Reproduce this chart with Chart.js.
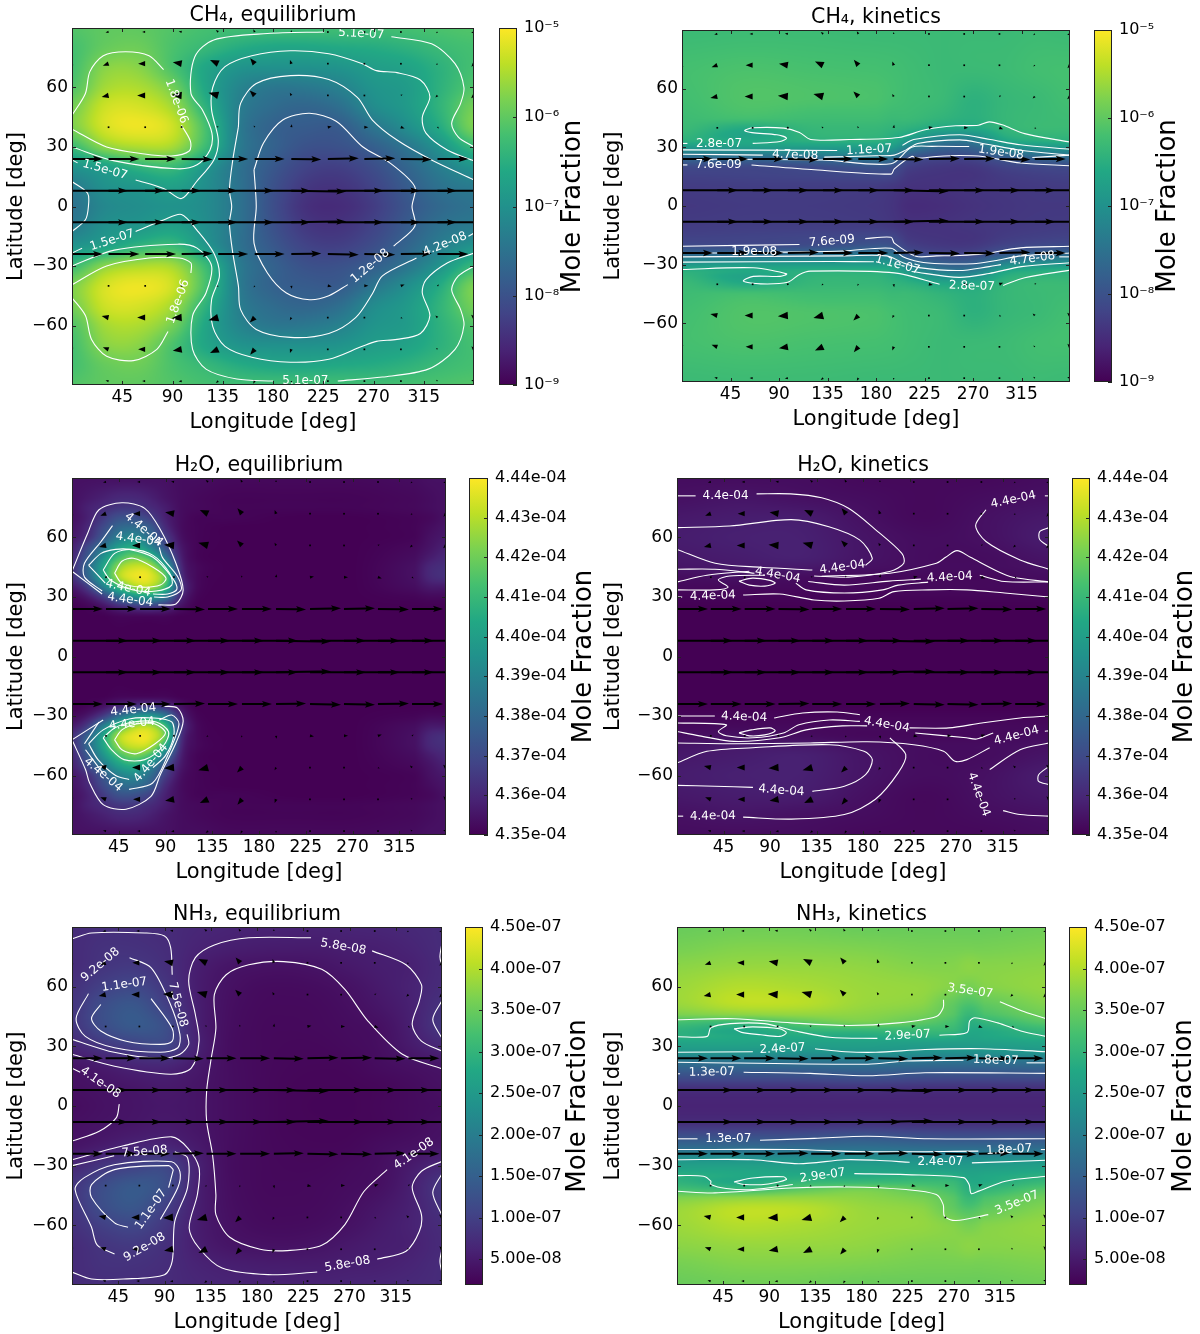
<!DOCTYPE html>
<html>
<head>
<meta charset="utf-8">
<title>Mole fraction maps</title>
<script src="https://cdn.jsdelivr.net/npm/chart.js@4"></script>
<style>
  html, body { margin: 0; padding: 0; background: #fff; }
  canvas { position: absolute; }
</style>
</head>
<body>
<script>
const FONT = '"DejaVu Sans", sans-serif';
const xTicks = [45, 90, 135, 180, 225, 270, 315];
const yTicks = [-60, -30, 0, 30, 60];
const viridis = ['#440154', '#482475', '#414487', '#355f8d', '#2a788e', '#21918c', '#22a884', '#44bf70', '#7ad151', '#bddf26', '#fde725'];

// wind field, same in every panel (north rows, south is the mirror image)
const windLons = [0, 32.7, 65.5, 98.2, 130.9, 163.6, 196.4, 229.1, 261.8, 294.5, 327.3, 360];
const windLats = [88, 72, 56, 40, 24, 8];
const windSpeed = [
  [3, 3, 3, 3, 3, 3, 2, 1, 1, 1, 2, 3],
  [5, 6, 7, 9, 9, 7, 4, 1.5, 1, 1, 2, 4],
  [4, 7, 8, 10, 10, 7, 3, 1.5, 1, 2, 3, 4],
  [1, 1, 1, 1.5, 2, 2, 3, 4, 4, 4, 2, 1],
  [31, 31, 31, 31, 30, 30, 30, 31, 31, 31, 31, 31],
  [56, 56, 56, 56, 56, 56, 55, 56, 56, 56, 56, 56]
];
const windDir = [
  [200, 190, 180, 170, 140, 120, 90, 0, 0, 0, 220, 200],
  [230, 199, 180, 170, 155, 130, 110, 90, 0, 0, 225, 230],
  [225, 192, 180, 176, 165, 135, 120, 90, 0, 30, 225, 225],
  [0, 0, 0, 170, 150, 120, 80, 10, 0, -20, -40, 0],
  [0, 0, 0, -1, 0, 0, -1, 1, 1, -1, 0, -1],
  [0, 0, 0, 0, 0, 0, -1, 0, 0, 0, 0, 0]
];

// CH4 equilibrium: log10 mole fraction
const ch4EqLons = [0, 30, 60, 90, 120, 150, 180, 210, 240, 270, 300, 330, 360];
const ch4EqLats = [0, 10, 20, 30, 40, 50, 60, 70, 80, 90];
const ch4EqField = [
  [-7.5, -7.15, -7.05, -6.98, -7.1, -7.5, -8.05, -8.45, -8.5, -8.3, -7.95, -7.65, -7.5],
  [-7.35, -7.0, -6.9, -6.75, -7.05, -7.5, -8.0, -8.35, -8.4, -8.2, -7.85, -7.5, -7.35],
  [-6.95, -6.72, -6.4, -6.3, -6.9, -7.5, -7.9, -8.2, -8.25, -8.05, -7.7, -7.3, -6.95],
  [-6.3, -5.7, -5.5, -5.55, -6.3, -7.35, -7.75, -8.0, -8.0, -7.8, -7.45, -6.95, -6.35],
  [-5.8, -5.25, -5.1, -5.3, -6.2, -7.35, -7.75, -7.85, -7.85, -7.45, -7.05, -6.55, -5.8],
  [-5.85, -5.3, -5.25, -5.55, -6.45, -7.3, -7.6, -7.7, -7.55, -7.1, -6.85, -6.4, -5.85],
  [-6.1, -5.55, -5.5, -5.85, -6.65, -7.2, -7.42, -7.4, -7.25, -6.95, -6.82, -6.45, -6.1],
  [-6.2, -5.72, -5.72, -6.15, -6.65, -6.95, -7.0, -7.0, -6.95, -6.8, -6.7, -6.45, -6.2],
  [-6.2, -5.95, -5.9, -6.15, -6.35, -6.55, -6.65, -6.65, -6.6, -6.55, -6.45, -6.3, -6.2],
  [-6.1, -6.0, -6.0, -6.1, -6.2, -6.25, -6.25, -6.25, -6.25, -6.25, -6.2, -6.15, -6.1]
];
const ch4EqContours = [
  [0,46, 12,57, 16,68, 28,76, 48,78, 69,76, 82,69],
  [98,41, 106,33, 105,28, 89,25.5, 65,26.5, 31,30, 0,39],
  [0,30, 38,23, 94,19, 112,21, 123.6,28.5, 125.3,37, 116.8,48.7, 106.5,57, 110,75.5, 127,84, 175,87.2, 226,88],
  [286,85.6, 322,82, 343,72, 351,60, 348,52, 340,42, 346,35, 360,30],
  [0,23.5, 5,22],
  [57,13.4, 82.5,9, 98,4, 111.6,12.6, 127,23.5, 131,33.5, 125,48.7, 126,60, 137,70.5, 161,76, 195.5,78.5, 230,77, 260,72, 272.6,68.5, 291,67.5, 312,63.8, 320.5,55.4, 313.7,45, 317,37, 336,28.5, 360,23],
  [0,12.6, 14,6.7, 14.7,0, 12,-6.7, 0,-12.6],
  [149,40, 151,52, 165,62, 195.5,66, 230,64, 255.5,55, 269,43.6, 291,33.5, 322,23.5, 360,13.4],
  [149,40, 144,23.5, 141,8.4, 143,0, 141,-8.4, 144,-23.5, 149,-40, 151,-52, 165,-62, 195.5,-66, 230,-64, 254,-56, 269,-44, 278,-35, 308.5,-26],
  [355,-15, 360,-13.4],
  [163,18.5, 171.5,32, 188.7,43.6, 212.7,47, 236.6,43, 260.6,30, 284.6,22, 307,10, 304.5,0, 307,-10, 288,-20],
  [247,-39.4, 230,-45, 212.7,-47, 192,-43.6, 175,-33.5, 163,-18.5, 165,0, 163,18.5],
  [0,-39.5, 31,-30, 69,-26, 96,-26, 106.5,-28.5, 106.5,-33.5],
  [86,-63, 76,-72, 55,-77.7, 31,-75.5, 17.5,-67, 12,-55, 0,-46],
  [0,-30, 38,-22, 94.5,-19, 112,-21, 125,-30, 120,-43.6, 108,-55, 108,-72, 120,-82, 147.6,-87, 180,-88],
  [238,-88, 278,-86, 319,-82, 343,-72, 351,-60, 348,-52, 340,-42, 346,-35, 360,-30],
  [0,-23.5, 9,-21],
  [57,-12.6, 82.5,-6.7, 98,-4, 112,-12, 127,-23.5, 132,-35, 125,-47, 126,-60.4, 137,-70.5, 161,-76, 195.5,-78.5, 230,-77, 260,-70.5, 272.6,-68, 291,-67, 312,-64, 320.5,-55, 313.7,-43.6, 317,-37, 336,-28.5, 360,-23.5]
];
const ch4EqLabels = [
  ['5.1e-07', 259, 87, 3], ['5.1e-07', 209, -88, 0], ['1.8e-06', 93.5, 53, 70], ['1.8e-06', 95, -48, -70],
  ['1.5e-07', 29.5, 18.5, 16], ['1.5e-07', 36, -17, -18], ['1.2e-08', 267, -30, -40], ['4.2e-08', 334, -19, -22]
];

// CH4 kinetics: log10 mole fraction
const ch4KinLons = [0, 60, 120, 180, 195, 210, 240, 270, 300, 330, 360];
const ch4KinLats = [0, 10, 16, 20, 24, 27, 30, 33, 36, 40, 45, 55, 70, 90];
const ch4KinField = [
  [-8.35, -8.32, -8.32, -8.35, -8.4, -8.5, -8.48, -8.42, -8.38, -8.35, -8.35],
  [-8.3, -8.28, -8.28, -8.3, -8.35, -8.42, -8.42, -8.38, -8.35, -8.32, -8.3],
  [-8.22, -8.2, -8.17, -8.13, -8.15, -8.35, -8.4, -8.4, -8.3, -8.25, -8.22],
  [-8.1, -8.13, -8.08, -7.95, -8.0, -8.25, -8.35, -8.35, -8.2, -8.13, -8.1],
  [-7.72, -7.72, -7.65, -7.5, -7.6, -8.05, -8.2, -8.2, -7.95, -7.8, -7.72],
  [-7.3, -7.25, -7.2, -7.1, -7.2, -7.7, -7.95, -7.95, -7.55, -7.4, -7.3],
  [-6.88, -6.8, -6.8, -6.8, -6.85, -7.3, -7.72, -7.72, -7.1, -6.95, -6.88],
  [-6.5, -6.6, -6.5, -6.5, -6.6, -6.95, -7.4, -7.38, -6.7, -6.55, -6.5],
  [-6.38, -6.7, -6.4, -6.4, -6.5, -6.65, -7.0, -7.0, -6.5, -6.4, -6.38],
  [-6.3, -6.55, -6.35, -6.35, -6.4, -6.45, -6.6, -6.6, -6.38, -6.3, -6.3],
  [-6.27, -6.2, -6.25, -6.25, -6.3, -6.3, -6.4, -6.48, -6.35, -6.3, -6.27],
  [-6.22, -6.1, -6.12, -6.15, -6.2, -6.25, -6.3, -6.45, -6.35, -6.3, -6.22],
  [-6.2, -6.15, -6.18, -6.2, -6.22, -6.25, -6.3, -6.3, -6.28, -6.22, -6.2],
  [-6.3, -6.28, -6.28, -6.3, -6.3, -6.3, -6.3, -6.3, -6.3, -6.28, -6.3]
];
const ch4KinContours = [
  [0,32, 5,32],
  [65.6,32, 91,33, 97,34.7, 88,36.4, 65,37.5, 58,38.6, 66,40, 94.6,39.8, 109,37.6, 119.4,34, 155,34, 201,35, 225.6,39, 254,41, 275,41.3, 285,43, 297,41.5, 318,37, 360,32.7],
  [0,28.7, 144,28.4],
  [204.5,31, 215,34, 257.6,36.4, 286,34, 314,31.3, 360,29],
  [0,26.5, 75,26],
  [132,25, 180,25.7, 197,26, 208,28.7, 218.6,32, 257.6,33.8, 279,32, 314,28.5, 360,26],
  [0,24, 130,23.5, 194,21.6, 213,30, 232,30.5, 266.5,30.4],
  [325,24.8, 360,26],
  [0,21, 5,21],
  [64.5,21, 123,18.5, 194,16.3, 197,19, 213,25.3, 218.6,24.5, 236,25.3, 257.6,25.8, 279,25.3, 314,22, 360,20.6],
  [0,-20.6, 109,-19.7],
  [170,-16.7, 194,-16, 197,-19, 217,-25.7, 236,-25.5, 257.6,-25.3, 279,-24.5, 314,-21.4, 360,-20.6],
  [0,-24, 33,-24],
  [91,-23.6, 150,-23, 194,-21.6, 205,-26, 220,-28.5, 240,-29.5, 270,-29.5, 290,-28, 315,-25.5, 360,-24],
  [0,-26, 150,-25.5, 190,-25.5, 205,-29, 220,-31.5, 257,-33, 285,-31, 296,-30],
  [350,-26, 360,-26],
  [0,-28.7, 140,-28.4, 178,-28.5],
  [213,-33.5, 257,-36.5, 285,-34.5, 315,-31, 360,-29],
  [0,-32.5, 66,-31.6, 97,-34.7, 91,-36, 66,-36, 57,-38.4, 73,-39.8, 98,-39, 109,-35, 119,-33.3, 197,-34.2, 239,-40],
  [298,-40.6, 318,-36.7, 360,-32.8]
];
const ch4KinLabels = [
  ['2.8e-07', 34.4, 32, 0], ['1.1e-07', 173.6, 28.7, -3], ['4.7e-08', 105, 26, 2], ['7.6e-09', 34, 21, 0], ['1.9e-08', 296, 27.4, 8],
  ['7.6e-09', 139, -18, -5], ['1.9e-08', 67, -23.6, 0], ['1.1e-07', 200, -30, 15], ['4.7e-08', 325, -27, -8], ['2.8e-07', 269, -41, 2]
];

// H2O equilibrium: units of 1e-4
const h2oEqLons = [0, 15, 30, 45, 60, 75, 90, 105, 120, 150, 210, 270, 330, 345, 360];
const h2oEqLats = [0, 20, 25, 30, 35, 40, 45, 50, 55, 60, 65, 70, 75, 80, 90];
const h2oEqField = [
  [4.35, 4.35, 4.35, 4.35, 4.35, 4.35, 4.35, 4.35, 4.35, 4.35, 4.35, 4.35, 4.35, 4.35, 4.35],
  [4.35, 4.35, 4.35, 4.351, 4.351, 4.351, 4.351, 4.35, 4.35, 4.35, 4.35, 4.35, 4.35, 4.35, 4.35],
  [4.35, 4.351, 4.354, 4.36, 4.364, 4.366, 4.362, 4.354, 4.35, 4.35, 4.35, 4.35, 4.35, 4.35, 4.35],
  [4.352, 4.356, 4.366, 4.382, 4.394, 4.398, 4.386, 4.36, 4.351, 4.35, 4.35, 4.35, 4.351, 4.352, 4.352],
  [4.356, 4.366, 4.388, 4.41, 4.426, 4.428, 4.41, 4.366, 4.352, 4.35, 4.35, 4.35, 4.353, 4.356, 4.356],
  [4.362, 4.378, 4.402, 4.428, 4.437, 4.436, 4.418, 4.364, 4.352, 4.35, 4.35, 4.35, 4.354, 4.36, 4.362],
  [4.362, 4.38, 4.402, 4.425, 4.433, 4.43, 4.405, 4.361, 4.352, 4.35, 4.35, 4.35, 4.354, 4.36, 4.362],
  [4.36, 4.375, 4.395, 4.412, 4.42, 4.412, 4.385, 4.358, 4.351, 4.35, 4.35, 4.35, 4.353, 4.357, 4.36],
  [4.358, 4.37, 4.385, 4.4, 4.405, 4.392, 4.372, 4.356, 4.351, 4.35, 4.35, 4.35, 4.352, 4.355, 4.358],
  [4.356, 4.362, 4.375, 4.388, 4.392, 4.382, 4.366, 4.354, 4.351, 4.35, 4.35, 4.35, 4.351, 4.354, 4.356],
  [4.355, 4.36, 4.37, 4.38, 4.382, 4.376, 4.361, 4.353, 4.351, 4.35, 4.35, 4.35, 4.351, 4.353, 4.355],
  [4.354, 4.358, 4.365, 4.372, 4.372, 4.367, 4.358, 4.353, 4.351, 4.351, 4.35, 4.35, 4.351, 4.352, 4.354],
  [4.354, 4.358, 4.361, 4.364, 4.364, 4.361, 4.357, 4.353, 4.352, 4.351, 4.351, 4.351, 4.352, 4.353, 4.354],
  [4.354, 4.356, 4.358, 4.36, 4.36, 4.358, 4.355, 4.353, 4.352, 4.351, 4.351, 4.351, 4.352, 4.353, 4.354],
  [4.354, 4.354, 4.354, 4.354, 4.354, 4.354, 4.354, 4.353, 4.353, 4.352, 4.352, 4.352, 4.353, 4.354, 4.354]
];
const h2oEqContours = [
  [0,43, 15,62, 26,74, 48,77.5, 70,74.7, 85,64, 100,47, 107,33.5, 100,26.5, 83,26],
  [29,31.5, 0,43],
  [39,66, 28,58, 12,47, 12,40, 29,33],
  [79,30, 92,30, 105,33.5, 102,40, 87,50, 84,55],
  [16,46, 28,52, 42,54, 55,54, 78,50, 96,40, 101,34, 92,31.5, 78,31.5],
  [32,37, 16,46],
  [30,43.6, 41,52, 57,54, 78,51, 94,42, 96,36, 81,33, 59,33.5, 37,38.6, 30,43.6],
  [41,42, 48,48, 59,49.5, 78,45, 90.5,39.5, 85,36, 67,35, 48,37, 41,42],
  [0,-42, 30,-32],
  [89,-25, 101.6,-26, 107,-32.7, 100,-43.6, 85,-59.6, 76,-70.5, 52,-77, 30,-74.7, 17,-63.8, 13,-57, 0,-42],
  [12,-44, 26,-33],
  [84,-32, 96,-29.5, 103,-34, 92,-50, 77.6,-63.8, 55,-67],
  [13,-47, 30,-59],
  [16,-44, 30,-37, 55,-31.5, 78,-31, 96,-33, 98,-40, 90,-50, 78,-56],
  [16,-44, 25,-52, 42,-60, 55,-62],
  [30,-41, 41,-36, 59,-33, 81,-33, 93,-38, 88,-45, 70,-52, 50,-52, 38,-47, 30,-41],
  [41,-42, 48,-37, 62,-34, 80,-34, 90,-38.5, 80,-44, 62,-49, 48,-47, 41,-42]
];
const h2oEqLabels = [
  ['4.4e-04', 69, 64, 40], ['4.4e-04', 64, 59, 8], ['4.4e-04', 54, 34.4, 12], ['4.4e-04', 56, 28.5, 8],
  ['4.4e-04', 59, -27, -6], ['4.4e-04', 57.6, -34, -6], ['4.4e-04', 30, -59.6, 40], ['4.4e-04', 76, -53.7, -50]
];

// H2O kinetics: units of 1e-4
const h2oKinLons = [0, 60, 120, 180, 240, 300, 360];
const h2oKinLats = [0, 25, 30, 35, 40, 45, 50, 60, 70, 80, 90];
const h2oKinField = [
  [4.35, 4.35, 4.35, 4.35, 4.35, 4.35, 4.35],
  [4.35, 4.35, 4.35, 4.35, 4.35, 4.35, 4.35],
  [4.351, 4.351, 4.351, 4.351, 4.351, 4.351, 4.351],
  [4.352, 4.352, 4.352, 4.352, 4.352, 4.352, 4.352],
  [4.353, 4.354, 4.353, 4.352, 4.352, 4.352, 4.353],
  [4.355, 4.356, 4.356, 4.354, 4.353, 4.353, 4.354],
  [4.356, 4.357, 4.358, 4.355, 4.353, 4.353, 4.355],
  [4.357, 4.358, 4.358, 4.355, 4.353, 4.354, 4.357],
  [4.356, 4.357, 4.357, 4.354, 4.352, 4.354, 4.356],
  [4.354, 4.355, 4.354, 4.353, 4.352, 4.353, 4.354],
  [4.353, 4.353, 4.353, 4.352, 4.352, 4.352, 4.353]
];
const h2oKinContours = [
  [0,81, 18,81],
  [77,82, 110,82, 140,80, 166,74.7, 192,64, 217.6,52, 219.5,47, 206.6,43, 166,40, 132.7,40.6],
  [75,42, 36.6,44, 0,44],
  [0,65, 51,65.8, 110.5,69, 147,65.4, 177,58.7, 189,49.5, 182.5,46],
  [0,54, 37,47, 81,45, 131,43.6],
  [0,37.6, 29,41, 70,43],
  [127,37.8, 162,36, 205,38, 236,39],
  [293,41, 317,37.8, 360,37.6],
  [0,33.6, 36.6,33.6, 49.5,35, 40,38.6, 51,40.6, 85,41],
  [115,37, 125,33.6, 162,32, 199,33.6, 214,36, 243,37.5],
  [60,38, 73,39.5, 90,38.4, 95,37, 85,35.5, 70,36, 60,38],
  [64,31, 99.4,31.5, 132.7,28.5, 162,28, 195.5,29.4, 210,32.7, 243.5,33.6, 280.5,33.6, 317,32, 360,30],
  [0,30, 5,30],
  [140,40.5, 206,42, 251,47, 260,50, 271,53.4, 284,50, 310,43, 325,40, 360,37.6],
  [299,74, 289,66, 299,58, 332,48.7, 360,44],
  [356,81, 360,81],
  [360,65, 351,63, 351,59, 360,55.4],
  [0,-30, 36.6,-30],
  [94,-31, 121.6,-28.5, 155,-28, 177,-29.4],
  [225,-36, 263,-36, 295,-33.5, 332,-31, 360,-30],
  [0,-33.5, 47.7,-34.4, 40,-37.8, 47.7,-40, 73.5,-41, 103,-38.6, 118,-34.4, 147.5,-32, 177,-32.7],
  [60,-38.5, 72,-37, 90,-36, 95,-37.5, 85,-39.5, 70,-40, 60,-38.5],
  [0,-37.8, 21.8,-40, 55,-42.8, 99.4,-41, 125,-37, 160,-35, 184,-35],
  [230.6,-38.6, 280,-41, 290,-41.6, 306,-38.6],
  [356,-37.7, 360,-37.5],
  [0,-43.6, 55,-44, 129,-43.6, 184,-43, 229,-44.5, 258,-47.8, 269,-52.8, 280.5,-52, 302.6,-46],
  [0,-53.7, 29,-47.8, 73.5,-46, 147.5,-44.5, 181,-47.8, 189,-52, 182.5,-59.6, 162,-65.4, 131,-68],
  [73.5,-66, 36.6,-65.4, 0,-65],
  [206,-41, 221.4,-49.5, 214,-58.7, 192,-72, 162,-79.7, 110.5,-82, 64,-81],
  [6,-80.5, 0,-80.5],
  [302.6,-57, 332,-47, 360,-43.6],
  [315.6,-77.7, 332,-79.7, 360,-80.5],
  [360,-55.4, 350,-59.6, 350,-63, 360,-64.6]
];
const h2oKinLabels = [
  ['4.4e-04', 47, 81, 0], ['4.4e-04', 325.5, 79, -12], ['4.4e-04', 160, 45, -8], ['4.4e-04', 97.5, 41, 10], ['4.4e-04', 264, 40, -3], ['4.4e-04', 34.7, 30.5, -2],
  ['4.4e-04', 65, -30.5, 2], ['4.4e-04', 203, -34.4, 10], ['4.4e-04', 328.5, -40, -15], ['4.4e-04', 292, -69.6, 70], ['4.4e-04', 101, -67.6, 4], ['4.4e-04', 34.7, -80.5, -1]
];

// NH3 equilibrium: units of 1e-7
const nh3EqLons = [0, 30, 60, 90, 120, 150, 180, 210, 240, 270, 300, 330, 360];
const nh3EqLats = [0, 10, 20, 30, 40, 50, 60, 70, 80, 90];
const nh3EqField = [
  [0.34, 0.39, 0.43, 0.46, 0.43, 0.36, 0.3, 0.26, 0.24, 0.24, 0.27, 0.31, 0.34],
  [0.38, 0.42, 0.46, 0.5, 0.44, 0.36, 0.3, 0.26, 0.25, 0.25, 0.27, 0.32, 0.38],
  [0.43, 0.52, 0.62, 0.64, 0.5, 0.36, 0.3, 0.27, 0.26, 0.27, 0.33, 0.38, 0.43],
  [0.66, 0.85, 1.0, 1.08, 0.62, 0.36, 0.3, 0.28, 0.28, 0.31, 0.36, 0.5, 0.65],
  [0.85, 1.18, 1.38, 1.22, 0.6, 0.37, 0.3, 0.29, 0.3, 0.33, 0.38, 0.56, 0.85],
  [0.85, 1.2, 1.35, 1.02, 0.58, 0.38, 0.31, 0.3, 0.31, 0.36, 0.45, 0.58, 0.8],
  [0.8, 1.0, 1.1, 0.88, 0.55, 0.4, 0.33, 0.32, 0.34, 0.4, 0.5, 0.6, 0.72],
  [0.72, 0.85, 0.9, 0.78, 0.56, 0.44, 0.4, 0.39, 0.42, 0.48, 0.54, 0.58, 0.7],
  [0.72, 0.8, 0.8, 0.74, 0.62, 0.56, 0.53, 0.52, 0.52, 0.55, 0.57, 0.63, 0.72],
  [0.72, 0.76, 0.76, 0.72, 0.66, 0.62, 0.6, 0.6, 0.6, 0.62, 0.64, 0.68, 0.72]
];
const nh3EqContours = [
  [0,84, 19,87, 71,87, 90,85.5, 96,79.6, 97.5,66],
  [112,36, 113.5,31, 105,26, 85,24, 41,27, 0,33.5],
  [16,56.5, 4,44, 13,35, 41.4,29.3, 86,27, 103,29.3, 105,36, 95,52, 77,69.5, 56,74.6],
  [28,51, 19,44, 28,37.7, 52.7,32.6, 86,31, 97.5,32.6, 97.5,39, 77,54],
  [232.6,84.6, 172,84.6, 138.5,81, 120,74.6, 113.5,63, 120,46, 123.6,32.6, 116,19, 95.6,16, 41.4,20, 0,26],
  [292,78, 325,71, 340,61, 338,53, 331,41, 340,32.6, 360,27.6],
  [360,18.7, 321.5,26, 288,42.7, 265.5,58.6, 243,68.7, 206,72.6, 172,71, 150,66, 138.5,56, 140,39, 135,22.5, 131,7.5, 131,-7.6, 136.7,-24.4, 140,-44.5, 140,-54.6, 153.5,-66, 183,-72, 209.5,-72.7, 243,-70, 265.5,-59.6, 284,-43, 306.6,-32],
  [0,19, 8,17],
  [46,1, 43,-6, 26.5,-12.7, 0,-17.7],
  [360,82, 358,75, 360,70],
  [360,53, 351,43.5, 360,34],
  [360,-27.8, 340,-32.8, 331,-41, 340,-54.6, 338,-63, 325,-73, 297,-77],
  [238.6,-83.5, 191,-84.8, 146,-81.5, 123.6,-71.4, 114,-61.3, 122,-44.5, 123.6,-31, 112.4,-21, 97,-15.5, 50,-20, 0,-27],
  [41,-25, 0,-30],
  [100,-23, 112.4,-26, 112.4,-41, 100,-58, 97.5,-78, 90,-84.8, 50,-87, 19,-87, 0,-83.5],
  [86,-57, 103,-41, 105,-33, 97,-28, 41,-29.5, 12,-36, 3,-42, 19,-61, 24.6,-70, 41.4,-74.4],
  [98.6,-32, 94,-30, 41.4,-32, 19,-39.5, 19,-46, 41.4,-58.8, 54.5,-61],
  [94,-41, 98.6,-32],
  [360,-34, 351,-43.5, 360,-55],
  [360,-72, 358,-78, 360,-84]
];
const nh3EqLabels = [
  ['5.8e-08', 264, 80, 10], ['9.2e-08', 27.6, 71, -40], ['1.1e-07', 51, 61, -8], ['7.5e-08', 103, 51, 75], ['4.1e-08', 27.6, 11.7, 35],
  ['7.5e-08', 70.6, -23, -4], ['4.1e-08', 332.7, -24, -35], ['1.1e-07', 77, -52, -55], ['9.2e-08', 70.6, -71, -30], ['5.8e-08', 268, -79.5, -10]
];

// NH3 kinetics: units of 1e-7
const nh3KinLons = [0, 60, 120, 180, 240, 270, 285, 300, 360];
const nh3KinLats = [0, 8, 16, 22, 27, 32, 35, 38, 42, 46, 52, 60, 70, 80, 90];
const nh3KinField = [
  [0.62, 0.62, 0.62, 0.62, 0.62, 0.62, 0.62, 0.62, 0.62],
  [0.75, 0.75, 0.75, 0.78, 0.75, 0.75, 0.75, 0.75, 0.75],
  [1.3, 1.3, 1.3, 1.38, 1.3, 1.28, 1.28, 1.28, 1.3],
  [1.8, 1.8, 1.8, 1.85, 1.8, 1.78, 1.78, 1.78, 1.8],
  [2.4, 2.4, 2.38, 2.4, 2.35, 2.33, 2.33, 2.35, 2.4],
  [2.7, 2.7, 2.65, 2.65, 2.62, 2.6, 2.6, 2.62, 2.7],
  [2.9, 2.78, 2.8, 2.8, 2.9, 2.85, 2.7, 2.75, 2.9],
  [2.95, 2.75, 3.0, 3.05, 3.1, 3.05, 2.8, 2.8, 3.05],
  [3.2, 3.1, 3.4, 3.6, 3.4, 3.2, 2.9, 3.0, 3.35],
  [3.65, 3.75, 3.8, 3.75, 3.6, 3.35, 3.05, 3.25, 3.55],
  [3.85, 4.08, 4.05, 3.85, 3.75, 3.45, 3.3, 3.45, 3.7],
  [3.85, 4.0, 3.95, 3.85, 3.8, 3.7, 3.6, 3.7, 3.8],
  [3.75, 3.82, 3.82, 3.78, 3.7, 3.7, 3.75, 3.72, 3.75],
  [3.6, 3.68, 3.68, 3.65, 3.6, 3.6, 3.6, 3.6, 3.65],
  [3.5, 3.55, 3.55, 3.5, 3.5, 3.5, 3.5, 3.5, 3.55]
];
const nh3KinContours = [
  [0,43.4, 55.6,43.9, 111.6,41.8, 167.5,40.5, 216,41.8, 253,45, 259.7,49.4, 260,53.4],
  [315,52.4, 339,47.4, 360,43.9],
  [0,34.8, 29.5,35, 33,39.3, 51.9,41.4, 85.4,41.4, 115.3,37.7, 149,34.6, 195.5,34],
  [256,35.6, 283,37, 285.5,42.7, 290.7,44.4, 313,41.8, 335.5,37.7, 360,35],
  [55.6,38.8, 74,39.8, 100,38.8, 106.7,36.8, 100.4,35, 81.7,35.8, 63,37, 55.6,38.8],
  [0,27, 74,27.3],
  [134.7,28.8, 164,27.3, 193.7,27, 242,28.4, 298,28.8, 360,27.3],
  [0,22, 186,21, 223.5,22.6, 279.5,23],
  [341,21.7, 360,21.7],
  [0,16.2, 3,16.2],
  [65,17, 130,16.4, 186,15.2, 242,16.7, 360,16.4],
  [0,-16.5, 20,-16.5],
  [81,-17.2, 134,-16.3, 186,-15.2, 246,-16.5, 360,-16.5],
  [0,-21.9, 111.6,-21.9, 186,-23, 294,-22.7],
  [355,-21.9, 360,-21.9],
  [0,-27, 74,-27, 119,-29, 164,-27, 193.7,-27.3, 227,-28.3],
  [287.7,-28.6, 360,-27.3],
  [0,-35, 25.7,-35.3, 33,-37.8, 33,-39.5, 48,-41.5, 74,-42, 113,-39.5],
  [173,-34, 223.5,-34.5, 279.5,-36, 285,-39.5, 287,-44, 294.4,-42.8, 320.5,-37.8, 360,-35.3],
  [55.6,-38.2, 74,-36.2, 104,-35.6, 106.7,-37, 89,-39.2, 66.8,-39.5, 55.6,-38.2],
  [0,-42.9, 37,-43.7, 111.6,-41.2, 167.5,-40.7, 223.5,-42, 253,-44.5, 259.7,-49.6, 261,-55.5, 272,-57.6, 303.7,-54.6]
];
const nh3KinLabels = [
  ['2.9e-07', 225, 35.5, -3], ['2.4e-07', 103, 28.8, -3], ['1.8e-07', 311, 22.9, 2], ['1.3e-07', 34, 17, -1], ['3.5e-07', 286, 57.8, 8],
  ['1.3e-07', 50, -16.5, 0], ['1.8e-07', 324, -22, -3], ['2.4e-07', 257, -28.3, 0], ['2.9e-07', 142, -35, -8], ['3.5e-07', 331.7, -48.7, -22]
];

// colour bar ticks
const logBarTicks = [1e-9, 1e-8, 1e-7, 1e-6, 1e-5];
const logBarLabels = ['10⁻⁹', '10⁻⁸', '10⁻⁷', '10⁻⁶', '10⁻⁵'];
const h2oBarTicks = [4.35e-4, 4.36e-4, 4.37e-4, 4.38e-4, 4.39e-4, 4.40e-4, 4.41e-4, 4.42e-4, 4.43e-4, 4.44e-4];
const h2oBarLabels = ['4.35e-04', '4.36e-04', '4.37e-04', '4.38e-04', '4.39e-04', '4.40e-04', '4.41e-04', '4.42e-04', '4.43e-04', '4.44e-04'];
const nh3BarTicks = [5e-8, 1e-7, 1.5e-7, 2e-7, 2.5e-7, 3e-7, 3.5e-7, 4e-7, 4.5e-7];
const nh3BarLabels = ['5.00e-08', '1.00e-07', '1.50e-07', '2.00e-07', '2.50e-07', '3.00e-07', '3.50e-07', '4.00e-07', '4.50e-07'];

const panels = [
  { title: 'CH₄, equilibrium', lons: ch4EqLons, lats: ch4EqLats, field: ch4EqField, contours: ch4EqContours, labels: ch4EqLabels, lo: -9, hi: -5, box: [72, 474, 28, 385], axisW: 68, bar: [499, 517], moleX: 573, barType: 'logarithmic', barMin: 1e-9, barMax: 1e-5, barTicks: logBarTicks, barLabels: logBarLabels },
  { title: 'CH₄, kinetics', lons: ch4KinLons, lats: ch4KinLats, field: ch4KinField, contours: ch4KinContours, labels: ch4KinLabels, lo: -9, hi: -5, box: [682, 1070, 30, 382], axisW: 81, bar: [1094, 1112], moleX: 1168, barType: 'logarithmic', barMin: 1e-9, barMax: 1e-5, barTicks: logBarTicks, barLabels: logBarLabels },
  { title: 'H₂O, equilibrium', lons: h2oEqLons, lats: h2oEqLats, field: h2oEqField, contours: h2oEqContours, labels: h2oEqLabels, lo: 4.35, hi: 4.44, box: [72, 446, 478, 835], axisW: 68, bar: [469, 488], moleX: 584, barType: 'linear', barMin: 4.35e-4, barMax: 4.44e-4, barTicks: h2oBarTicks, barLabels: h2oBarLabels },
  { title: 'H₂O, kinetics', lons: h2oKinLons, lats: h2oKinLats, field: h2oKinField, contours: h2oKinContours, labels: h2oKinLabels, lo: 4.35, hi: 4.44, box: [677, 1049, 478, 835], axisW: 76, bar: [1072, 1090], moleX: 1185, barType: 'linear', barMin: 4.35e-4, barMax: 4.44e-4, barTicks: h2oBarTicks, barLabels: h2oBarLabels },
  { title: 'NH₃, equilibrium', lons: nh3EqLons, lats: nh3EqLats, field: nh3EqField, contours: nh3EqContours, labels: nh3EqLabels, lo: 0.19, hi: 4.5, box: [72, 442, 927, 1285], axisW: 68, bar: [465, 483], moleX: 578, barType: 'linear', barMin: 1.9e-8, barMax: 4.5e-7, barTicks: nh3BarTicks, barLabels: nh3BarLabels },
  { title: 'NH₃, kinetics', lons: nh3KinLons, lats: nh3KinLats, field: nh3KinField, contours: nh3KinContours, labels: nh3KinLabels, lo: 0.19, hi: 4.5, box: [677, 1046, 927, 1285], axisW: 76, bar: [1069, 1087], moleX: 1184, barType: 'linear', barMin: 1.9e-8, barMax: 4.5e-7, barTicks: nh3BarTicks, barLabels: nh3BarLabels }
];

function hexToRgb(h) { return [1, 3, 5].map(i => parseInt(h.substr(i, 2), 16)); }
const viridisRgb = viridis.map(hexToRgb);
function colormap(t) {
  t = Math.max(0, Math.min(1, t));
  const f = t * (viridisRgb.length - 1), i = Math.min(Math.floor(f), viridisRgb.length - 2), w = f - i;
  return viridisRgb[i].map((c, k) => c + (viridisRgb[i + 1][k] - c) * w);
}

// fractional position of v in a sorted axis
function axisPos(axis, v) {
  let i = 0;
  while (i < axis.length - 2 && axis[i + 1] < v) i++;
  return i + (v - axis[i]) / (axis[i + 1] - axis[i]);
}
function catmull(a, b, c, d, t) {
  return b + 0.5 * t * (c - a + t * (2 * a - 5 * b + 4 * c - d + t * (3 * (b - c) + d - a)));
}
function sampleRow(row, x) {
  const i = Math.min(Math.floor(x), row.length - 2), t = x - i;
  return catmull(row[Math.max(i - 1, 0)], row[i], row[i + 1], row[Math.min(i + 2, row.length - 1)], t);
}
function sampleField(p, lon, lat) {
  const x = axisPos(p.lons, lon), y = axisPos(p.lats, Math.abs(lat));
  const n = p.field.length, i = Math.min(Math.floor(y), n - 2), t = y - i;
  return catmull(sampleRow(p.field[Math.max(i - 1, 0)], x), sampleRow(p.field[i], x), sampleRow(p.field[i + 1], x), sampleRow(p.field[Math.min(i + 2, n - 1)], x), t);
}

const heatmapPlugin = {
  id: 'heatmap',
  beforeDatasetsDraw(chart) {
    const p = chart.options.plugins.heatmap.panel, a = chart.chartArea;
    const w = Math.round(a.right - a.left), h = Math.round(a.bottom - a.top);
    const off = document.createElement('canvas');
    off.width = w; off.height = h;
    const octx = off.getContext('2d'), img = octx.createImageData(w, h);
    for (let j = 0; j < h; j++) {
      const lat = chart.scales.y.getValueForPixel(a.top + j + 0.5);
      for (let i = 0; i < w; i++) {
        const lon = chart.scales.x.getValueForPixel(a.left + i + 0.5);
        const rgb = colormap((sampleField(p, lon, lat) - p.lo) / (p.hi - p.lo));
        const o = (j * w + i) * 4;
        img.data[o] = rgb[0]; img.data[o + 1] = rgb[1]; img.data[o + 2] = rgb[2]; img.data[o + 3] = 255;
      }
    }
    octx.putImageData(img, 0, 0);
    chart.ctx.drawImage(off, a.left, a.top);
  }
};

function drawArrow(ctx, x, y, len, dir) {
  ctx.save();
  ctx.translate(x, y);
  ctx.rotate(-dir * Math.PI / 180);
  ctx.fillStyle = '#000';
  if (len < 1.6) {
    ctx.fillRect(-0.8, -0.8, 1.7, 1.7);
  } else if (len <= 10) {
    ctx.beginPath();
    ctx.moveTo(len, 0);
    ctx.lineTo(0, -len * 0.38);
    ctx.lineTo(0, len * 0.38);
    ctx.closePath();
    ctx.fill();
  } else {
    ctx.beginPath();
    ctx.moveTo(len, 0);
    ctx.lineTo(len - 10, -3.2);
    ctx.lineTo(len - 8.5, -1);
    ctx.lineTo(0, -1);
    ctx.lineTo(0, 1);
    ctx.lineTo(len - 8.5, 1);
    ctx.lineTo(len - 10, 3.2);
    ctx.closePath();
    ctx.fill();
  }
  ctx.restore();
}

const overlayPlugin = {
  id: 'overlay',
  afterDatasetsDraw(chart) {
    const p = chart.options.plugins.overlay.panel, a = chart.chartArea, ctx = chart.ctx;
    const xs = chart.scales.x, ys = chart.scales.y;
    ctx.save();
    ctx.beginPath();
    ctx.rect(a.left, a.top, a.right - a.left, a.bottom - a.top);
    ctx.clip();
    windLats.forEach((lat, r) => {
      windLons.forEach((lon, c) => {
        drawArrow(ctx, xs.getPixelForValue(lon), ys.getPixelForValue(lat), windSpeed[r][c], windDir[r][c]);
        drawArrow(ctx, xs.getPixelForValue(lon), ys.getPixelForValue(-lat), windSpeed[r][c], -windDir[r][c]);
      });
    });
    ctx.restore();
    ctx.save();
    ctx.fillStyle = '#fff';
    ctx.font = '12px ' + FONT;
    ctx.textAlign = 'center';
    ctx.textBaseline = 'middle';
    p.labels.forEach(l => {
      ctx.save();
      ctx.translate(xs.getPixelForValue(l[1]), ys.getPixelForValue(l[2]));
      ctx.rotate(l[3] * Math.PI / 180);
      ctx.fillText(l[0], 0, 0);
      ctx.restore();
    });
    ctx.restore();
    // frame and inward ticks
    ctx.save();
    ctx.strokeStyle = '#222';
    ctx.lineWidth = 1;
    ctx.strokeRect(a.left + 0.5, a.top + 0.5, a.right - a.left - 1, a.bottom - a.top - 1);
    ctx.beginPath();
    xTicks.forEach(v => {
      const x = Math.round(xs.getPixelForValue(v)) + 0.5;
      ctx.moveTo(x, a.top); ctx.lineTo(x, a.top + 4);
      ctx.moveTo(x, a.bottom); ctx.lineTo(x, a.bottom - 4);
    });
    yTicks.forEach(v => {
      const y = Math.round(ys.getPixelForValue(v)) + 0.5;
      ctx.moveTo(a.left, y); ctx.lineTo(a.left + 4, y);
      ctx.moveTo(a.right, y); ctx.lineTo(a.right - 4, y);
    });
    ctx.stroke();
    ctx.restore();
  }
};

const barPlugin = {
  id: 'barFill',
  beforeDatasetsDraw(chart) {
    const a = chart.chartArea, ctx = chart.ctx;
    const g = ctx.createLinearGradient(0, a.bottom, 0, a.top);
    viridis.forEach((c, i) => g.addColorStop(i / (viridis.length - 1), c));
    ctx.fillStyle = g;
    ctx.fillRect(a.left, a.top, a.right - a.left, a.bottom - a.top);
  },
  afterDatasetsDraw(chart) {
    const opt = chart.options.plugins.barFill, a = chart.chartArea, ctx = chart.ctx;
    ctx.save();
    ctx.strokeStyle = '#222';
    ctx.lineWidth = 1;
    ctx.strokeRect(a.left + 0.5, a.top + 0.5, a.right - a.left - 1, a.bottom - a.top - 1);
    ctx.beginPath();
    opt.ticks.forEach(v => {
      const y = Math.round(chart.scales.y.getPixelForValue(v)) + 0.5;
      ctx.moveTo(a.right, y); ctx.lineTo(a.right - 4, y);
    });
    ctx.stroke();
    ctx.fillStyle = '#000';
    ctx.font = '26px ' + FONT;
    ctx.textAlign = 'center';
    ctx.textBaseline = 'middle';
    ctx.translate(opt.moleX, (a.top + a.bottom) / 2);
    ctx.rotate(-Math.PI / 2);
    ctx.fillText('Mole Fraction', 0, 0);
    ctx.restore();
  }
};

function addCanvas(left, top, width, height) {
  const c = document.createElement('canvas');
  c.width = width; c.height = height;
  c.style.left = left + 'px'; c.style.top = top + 'px';
  c.style.width = width + 'px'; c.style.height = height + 'px';
  document.body.appendChild(c);
  return c;
}

function toPoints(flat) {
  const pts = [];
  for (let i = 0; i < flat.length; i += 2) pts.push({ x: flat[i], y: flat[i + 1] });
  return pts;
}

panels.forEach(p => {
  const [l, r, t, b] = p.box;
  const titleH = 28, xAxisH = 50;
  const canvasLeft = l - p.axisW, canvasTop = t - titleH;
  const cv = addCanvas(canvasLeft, canvasTop, p.axisW + (r - l) + 2, titleH + (b - t) + xAxisH + 2);
  new Chart(cv, {
    type: 'scatter',
    data: {
      datasets: p.contours.map(c => ({
        data: toPoints(c), showLine: true, borderColor: '#fff', borderWidth: 1.1,
        pointRadius: 0, tension: 0.3, fill: false
      }))
    },
    options: {
      responsive: false, animation: false, devicePixelRatio: 1, events: [],
      layout: { autoPadding: false, padding: { left: 0, right: 2, top: 0, bottom: 2 } },
      plugins: {
        legend: { display: false }, tooltip: { enabled: false },
        title: {
          display: true, text: p.title, color: '#000', fullSize: false,
          font: { family: FONT, size: 20.5, weight: 'normal', lineHeight: 25 / 20.5 },
          padding: { top: 3, bottom: 0 }
        },
        heatmap: { panel: p }, overlay: { panel: p }
      },
      scales: {
        x: {
          type: 'linear', min: 0, max: 360,
          grid: { display: false, drawTicks: false }, border: { display: false },
          afterBuildTicks: s => { s.ticks = xTicks.map(v => ({ value: v })); },
          afterFit: s => { s.height = xAxisH; },
          ticks: { color: '#000', maxRotation: 0, autoSkip: false, padding: 2, font: { family: FONT, size: 17 } },
          title: { display: true, text: 'Longitude [deg]', color: '#000', padding: { top: 0, bottom: 0 }, font: { family: FONT, size: 21 } }
        },
        y: {
          type: 'linear', min: -90, max: 90,
          grid: { display: false, drawTicks: false }, border: { display: false },
          afterBuildTicks: s => { s.ticks = yTicks.map(v => ({ value: v })); },
          afterFit: s => { s.width = p.axisW; },
          ticks: {
            color: '#000', autoSkip: false, padding: 4, font: { family: FONT, size: 17 },
            callback: v => String(v).replace('-', '−')
          },
          title: { display: true, text: 'Latitude [deg]', color: '#000', padding: { top: 0, bottom: 0 }, font: { family: FONT, size: 21 } }
        }
      }
    },
    plugins: [heatmapPlugin, overlayPlugin]
  });

  // colour bar
  const [bl, br] = p.bar;
  const barW = Math.min(1200, p.moleX + 18) - bl + 1;
  const barCv = addCanvas(bl - 1, t - 20, barW, (b - t) + 40);
  new Chart(barCv, {
    type: 'scatter',
    data: { datasets: [] },
    options: {
      responsive: false, animation: false, devicePixelRatio: 1, events: [],
      layout: { autoPadding: false, padding: { left: 1, right: 0, top: 20, bottom: 20 } },
      plugins: {
        legend: { display: false }, tooltip: { enabled: false },
        barFill: { ticks: p.barTicks, moleX: p.moleX - bl + 1 }
      },
      scales: {
        x: { display: false, type: 'linear', min: 0, max: 1 },
        y: {
          type: p.barType, position: 'right', min: p.barMin, max: p.barMax,
          grid: { display: false, drawTicks: false }, border: { display: false },
          afterBuildTicks: s => { s.ticks = p.barTicks.map(v => ({ value: v })); },
          afterFit: s => { s.width = barW - 1 - (br - bl); },
          ticks: {
            color: '#000', autoSkip: false, padding: 7, font: { family: FONT, size: 16 },
            callback: (v, i) => p.barLabels[i]
          }
        }
      }
    },
    plugins: [barPlugin]
  });
});
</script>
</body>
</html>
